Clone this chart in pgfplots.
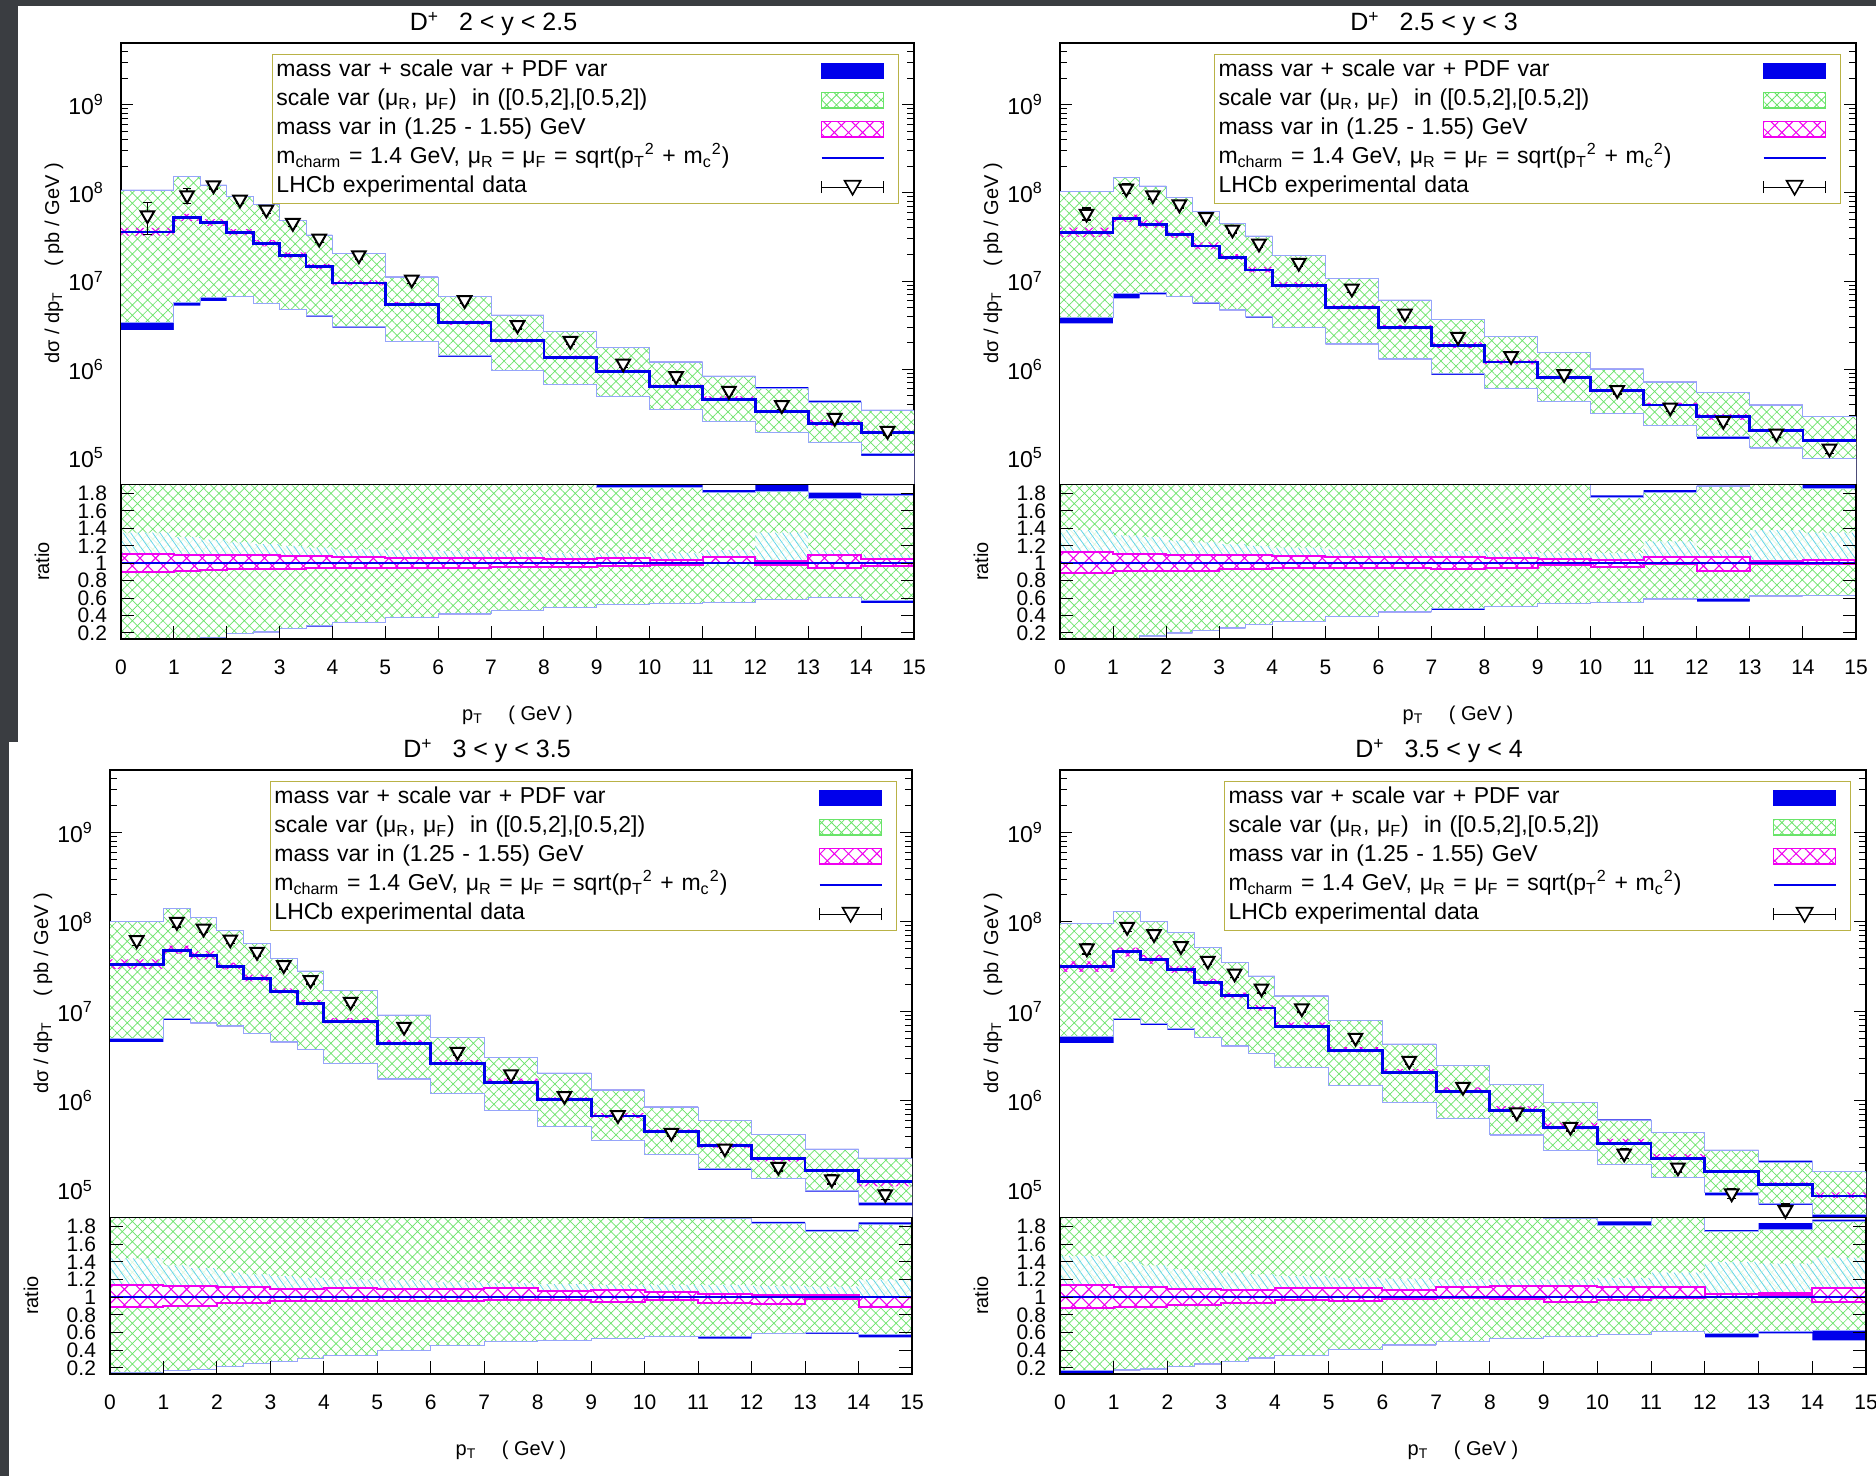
\documentclass[border=0pt]{standalone}
\usepackage{pgfplots}
\pgfplotsset{compat=1.18}
\usepackage{pgfplotstable}
\usetikzlibrary{patterns,patterns.meta}
\usepackage{fontspec}
\setmainfont{Liberation Sans}
\definecolor{bgdark}{RGB}{58,61,65}
\definecolor{hgreen}{RGB}{105,228,105}
\definecolor{edgeblue}{RGB}{150,165,250}
\definecolor{legolive}{RGB}{185,178,70}
\definecolor{pdfcyan}{RGB}{90,210,235}
\definecolor{dblue}{RGB}{0,0,235}
\definecolor{mag}{RGB}{240,0,240}

% ---------- theory tables: x = bin left edge, c = central (pb/GeV), others = ratio to central
\pgfplotstableread{
x    c       su    sl     tu    tl     mu    ml    pu    pl
0    3.6e7   2.97  0.093  2.99  0.077  1.11  0.90  1.35  0.93
1    5.25e7  2.88  0.110  2.90  0.100  1.10  0.91  1.30  0.94
1.5  4.56e7  2.68  0.143  2.70  0.130  1.10  0.92  1.27  0.94
2    3.55e7  2.56  0.189  2.58  0.185  1.09  0.93  1.24  0.95
2.5  2.66e7  2.78  0.211  2.80  0.205  1.09  0.93  1.22  0.95
3    1.95e7  2.46  0.246  2.48  0.242  1.085 0.935 1.20  0.95
3.5  1.45e7  2.28  0.284  2.30  0.272  1.08  0.94  1.18  0.95
4    9.5e6   2.16  0.322  2.18  0.312  1.07  0.94  1.16  0.96
5    5.46e6  2.03  0.379  2.05  0.375  1.06  0.95  1.15  0.96
6    3.36e6  1.99  0.421  2.01  0.412  1.06  0.95  1.14  0.97
7    2.1e6   1.95  0.459  1.97  0.455  1.055 0.955 1.13  0.97
8    1.36e6  1.95  0.497  1.97  0.493  1.05  0.96  1.12  0.97
9    9.35e5  1.875 0.524  1.90  0.520  1.055 0.97  1.12  0.97
10   6.43e5  1.87  0.543  1.90  0.540  1.04  0.98  1.12  0.97
11   4.58e5  1.81  0.554  1.84  0.550  1.076 1.00  1.15  0.97
12   3.29e5  1.82  0.589  1.90  0.585  1.03  0.98  1.35  1.00
13   2.43e5  1.74  0.608  1.81  0.604  1.10  0.94  1.15  0.95
14   1.92e5  1.78  0.570  1.80  0.543  1.05  0.97  1.10  0.85
15   1.92e5  1.78  0.570  1.80  0.543  1.05  0.97  1.10  0.85
}\tabTL
\pgfplotstableread{
x    c       su    sl     tu    tl     mu    ml    pu    pl
0    3.55e7  2.93  0.110  2.95  0.093  1.133 0.886 1.38  0.92
1    5.1e7   2.90  0.140  2.92  0.125  1.11  0.91  1.32  0.93
1.5  4.4e7   2.70  0.170  2.72  0.160  1.11  0.91  1.30  0.93
2    3.37e7  2.60  0.200  2.62  0.195  1.10  0.915 1.26  0.94
2.5  2.5e7   2.43  0.227  2.45  0.222  1.10  0.915 1.24  0.94
3    1.85e7  2.43  0.257  2.45  0.252  1.09  0.935 1.22  0.95
3.5  1.33e7  2.42  0.295  2.44  0.290  1.09  0.935 1.20  0.95
4    8.97e6  2.15  0.333  2.17  0.328  1.08  0.94  1.18  0.96
5    5.0e6   2.14  0.387  2.16  0.383  1.07  0.95  1.16  0.96
6    2.97e6  2.04  0.440  2.06  0.435  1.07  0.95  1.15  0.97
7    1.87e6  1.96  0.475  1.98  0.460  1.076 0.93  1.14  0.97
8    1.21e6  1.93  0.505  1.95  0.500  1.06  0.94  1.13  0.97
9    8.0e5   1.91  0.535  1.93  0.530  1.05  0.98  1.12  0.97
10   5.7e5   1.76  0.550  1.78  0.545  1.04  0.96  1.12  0.97
11   3.92e5  1.81  0.590  1.84  0.585  1.07  0.99  1.25  0.98
12   2.89e5  1.88  0.590  1.89  0.560  1.076 0.916 1.15  0.97
13   2.04e5  1.92  0.627  1.94  0.620  1.03  0.99  1.38  1.00
14   1.55e5  1.86  0.630  1.90  0.625  1.04  0.99  1.35  1.00
15   1.55e5  1.86  0.630  1.90  0.625  1.04  0.99  1.35  1.00
}\tabTR
\pgfplotstableread{
x    c       su    sl     tu    tl     mu    ml    pu    pl
0    3.34e7  3.00  0.150  3.02  0.135  1.14  0.886 1.44  0.90
1    4.83e7  2.92  0.173  2.94  0.165  1.126 0.905 1.36  0.92
1.5  4.18e7  2.66  0.180  2.68  0.175  1.126 0.905 1.33  0.92
2    3.15e7  2.52  0.220  2.54  0.215  1.114 0.935 1.28  0.93
2.5  2.31e7  2.48  0.246  2.50  0.242  1.114 0.935 1.26  0.93
3    1.65e7  2.36  0.276  2.38  0.272  1.095 0.955 1.24  0.94
3.5  1.22e7  2.30  0.307  2.32  0.303  1.095 0.955 1.22  0.94
4    7.64e6  2.21  0.345  2.23  0.342  1.10  0.96  1.20  0.95
5    4.37e6  2.07  0.400  2.09  0.397  1.09  0.96  1.19  0.95
6    2.61e6  1.95  0.455  1.97  0.452  1.09  0.96  1.17  0.96
7    1.59e6  1.91  0.493  1.93  0.490  1.11  0.97  1.16  0.96
8    1.02e6  1.98  0.510  2.00  0.507  1.07  0.97  1.15  0.96
9    6.73e5  1.95  0.535  1.97  0.525  1.08  0.95  1.14  0.96
10   4.49e5  1.89  0.560  1.91  0.555  1.06  0.97  1.14  0.95
11   3.18e5  1.89  0.555  1.91  0.530  1.04  0.93  1.14  0.92
12   2.26e5  1.835 0.590  1.855 0.585  1.03  0.92  1.13  0.90
13   1.64e5  1.745 0.600  1.765 0.585  1.02  0.98  1.12  0.87
14   1.24e5  1.83  0.580  1.85  0.545  1.00  0.886 1.20  0.85
15   1.24e5  1.83  0.580  1.85  0.545  1.00  0.886 1.20  0.85
}\tabBL
\pgfplotstableread{
x    c       su    sl     tu    tl     mu    ml    pu    pl
0    3.15e7  3.05  0.167  3.07  0.140  1.144 0.873 1.47  0.90
1    4.62e7  2.81  0.180  2.83  0.172  1.113 0.885 1.40  0.92
1.5  3.83e7  2.61  0.190  2.63  0.183  1.113 0.885 1.36  0.92
2    2.94e7  2.57  0.217  2.59  0.210  1.094 0.912 1.32  0.93
2.5  2.1e7   2.47  0.244  2.49  0.238  1.094 0.912 1.30  0.93
3    1.5e7   2.35  0.275  2.37  0.270  1.078 0.93  1.28  0.94
3.5  1.09e7  2.27  0.313  2.29  0.307  1.078 0.93  1.26  0.94
4    6.82e6  2.17  0.344  2.19  0.340  1.105 0.97  1.24  0.95
5    3.61e6  2.17  0.410  2.19  0.405  1.10  0.96  1.22  0.95
6    2.07e6  2.06  0.460  2.08  0.455  1.086 0.985 1.21  0.96
7    1.26e6  1.95  0.500  1.97  0.495  1.12  0.99  1.20  0.96
8    7.71e5  1.97  0.537  1.99  0.532  1.13  0.98  1.20  0.96
9    5.02e5  1.89  0.553  1.92  0.548  1.13  0.95  1.20  0.96
10   3.33e5  1.81  0.576  1.86  0.571  1.12  0.97  1.22  0.95
11   2.26e5  1.93  0.615  1.95  0.610  1.12  0.99  1.28  0.92
12   1.6e5   1.75  0.584  1.76  0.545  1.04  1.00  1.40  0.75
13   1.16e5  1.77  0.610  1.84  0.590  1.05  1.02  1.38  0.80
14   8.57e4  1.86  0.620  1.88  0.510  1.10  0.95  1.45  0.80
15   8.57e4  1.86  0.620  1.88  0.510  1.10  0.95  1.45  0.80
}\tabBR

% ---------- LHCb data: x, value, error
\pgfplotstableread{
x     d       e
0.5   5.57e7  2.2e7
1.25  9.4e7   1.8e7
1.75  1.22e8  1.2e7
2.25  8.4e7   8e6
2.75  6.46e7  6e6
3.25  4.56e7  4e6
3.75  3.03e7  3e6
4.5   1.96e7  1.8e6
5.5   1.04e7  1e6
6.5   6.07e6  5e5
7.5   3.16e6  3e5
8.5   2.1e6   2e5
9.5   1.16e6  1.1e5
10.5  8.36e5  8e4
11.5  5.7e5   5e4
12.5  3.92e5  4e4
13.5  2.81e5  3e4
14.5  2.0e5   2e4
}\datTL
\pgfplotstableread{
x     d       e
0.5   5.8e7   9e6
1.25  1.12e8  1.4e7
1.75  9.4e7   9e6
2.25  7.4e7   7e6
2.75  5.3e7   5e6
3.25  3.84e7  3.5e6
3.75  2.66e7  2.5e6
4.5   1.61e7  1.5e6
5.5   8.2e6   8e5
6.5   4.28e6  4e5
7.5   2.33e6  2.2e5
8.5   1.41e6  1.3e5
9.5   8.8e5   8e4
10.5  5.8e5   5.5e4
11.5  3.69e5  3.5e4
12.5  2.6e5   2.5e4
13.5  1.87e5  2e4
14.5  1.26e5  1.5e4
}\datTR
\pgfplotstableread{
x     d       e
0.5   6.25e7  8e6
1.25  1.0e8   1.2e7
1.75  8.4e7   8e6
2.25  6.36e7  6e6
2.75  4.62e7  4.5e6
3.25  3.28e7  3e6
3.75  2.23e7  2.1e6
4.5   1.28e7  1.2e6
5.5   6.71e6  6e5
6.5   3.52e6  3.3e5
7.5   1.97e6  1.8e5
8.5   1.13e6  1e5
9.5   6.9e5   6.5e4
10.5  4.38e5  4e4
11.5  2.92e5  2.8e4
12.5  1.82e5  1.8e4
13.5  1.32e5  1.5e4
14.5  9.0e4   1.2e4
}\datBL
\pgfplotstableread{
x     d       e
0.5   5.05e7  7e6
1.25  8.8e7   1e7
1.75  7.3e7   7e6
2.25  5.36e7  5e6
2.75  3.67e7  3.5e6
3.25  2.65e7  2.5e6
3.75  1.8e7   2e6
4.5   1.08e7  1e6
5.5   5.06e6  5e5
6.5   2.79e6  2.7e5
7.5   1.43e6  1.4e5
8.5   7.4e5   7e4
9.5   5.1e5   5e4
10.5  2.57e5  3e4
11.5  1.79e5  2e4
12.5  9.2e4   1.2e4
13.5  5.97e4  1e4
}\datBR

\pgfplotsset{
  base/.style={scale only axis, anchor=south west, xmin=0, xmax=15,
    axis line style={black, line width=0.8pt},
    every tick/.style={black, line width=0.5pt},
    tick align=inside, major tick length=6pt, minor tick length=3.5pt,
    tick label style={font=\fontsize{10.5}{12}\selectfont},
    label style={font=\fontsize{13}{15}\selectfont}},
  ratioax/.style={base, ymin=0.13, ymax=1.91, axis on top,
    ytick={0.2,0.4,0.6,0.8,1,1.2,1.4,1.6,1.8},
    yticklabels={0.2,0.4,0.6,0.8,1,1.2,1.4,1.6,1.8},
    xtick={0,1,2,3,4,5,6,7,8,9,10,11,12,13,14,15},
    xticklabels={0,1,2,3,4,5,6,7,8,9,10,11,12,13,14,15},
    xtick pos=bottom, ytick pos=both, yticklabel pos=left,
    major tick length=6.5pt,
    xticklabel style={yshift=-7pt},
    yticklabel style={xshift=-3.5pt},
    xlabel={p\textsubscript{T}\quad\ ( GeV )},
    ylabel={ratio},
    every axis x label/.style={at={(axis description cs:0.5,0)}, anchor=center, yshift=-38pt},
    every axis y label/.style={at={(axis description cs:0,0.5)}, xshift=-39.5pt, rotate=90, anchor=center}},
  mainax/.style={base, ymin=5e4, ymax=5e9, xtick=\empty,
    ytick={1e5,1e6,1e7,1e8,1e9},
    yticklabels={10\textsuperscript{5},10\textsuperscript{6},10\textsuperscript{7},10\textsuperscript{8},10\textsuperscript{9}},
    minor ytick={6e4,7e4,8e4,9e4,2e5,3e5,4e5,5e5,6e5,7e5,8e5,9e5,2e6,3e6,4e6,5e6,6e6,7e6,8e6,9e6,2e7,3e7,4e7,5e7,6e7,7e7,8e7,9e7,2e8,3e8,4e8,5e8,6e8,7e8,8e8,9e8,2e9,3e9,4e9},
    ytick pos=both, yticklabel pos=left,
    yticklabel style={xshift=-5pt, font=\fontsize{11.5}{13}\selectfont},
    ylabel={dσ / dp\textsubscript{T}\quad\ ( pb / GeV )},
    every axis y label/.style={at={(axis description cs:0,0.5)}, xshift=-33.5pt, rotate=90, anchor=center},
    every axis title/.style={at={(axis description cs:0.5,1)}, anchor=center, xshift=-12pt, yshift=9.5pt, font=\fontsize{12.5}{14}\selectfont},
    legend plot pos=right, legend cell align=left,
    legend style={at={(axis description cs:1,1)}, anchor=north east, xshift=-7.5pt, yshift=-5.5pt,
      draw=legolive, line width=0.7pt, fill=white, inner sep=1pt, row sep=0pt, column sep=9pt,
      font=\fontsize{11.5}{13}\selectfont,
      nodes={text width=262pt, align=left, text height=8.6pt, text depth=3.3pt, inner ysep=1.3pt, inner xsep=1pt}}},
  band/.style={forget plot, const plot, draw=none},
  greenhatch/.style={band, pattern={Hatch[angle=45,distance=3.6pt,line width=0.35pt]}, pattern color=hgreen},
  cyanhatch/.style={band, pattern={Lines[angle=-55,distance=3pt,line width=0.35pt]}, pattern color=pdfcyan},
  maghatch/.style={band, pattern={Hatch[angle=45,distance=5.5pt,line width=0.55pt]}, pattern color=mag},
  lgA/.style={legend image code/.code={\fill[dblue] (0pt,-3.5pt) rectangle (31pt,3.5pt);\path (37pt,0pt);}},
  lgB/.style={legend image code/.code={\fill[white] (0pt,-3.8pt) rectangle (31pt,3.8pt);\fill[pattern={Hatch[angle=45,distance=3.5pt,line width=0.4pt]},pattern color=hgreen] (0pt,-3.8pt) rectangle (31pt,3.8pt);\draw[hgreen,line width=0.8pt] (0pt,-3.8pt) rectangle (31pt,3.8pt);\path (37pt,0pt);}},
  lgC/.style={legend image code/.code={\fill[white] (0pt,-3.8pt) rectangle (31pt,3.8pt);\fill[pattern={Hatch[angle=45,distance=5pt,line width=0.5pt]},pattern color=mag] (0pt,-3.8pt) rectangle (31pt,3.8pt);\draw[mag,line width=0.8pt] (0pt,-3.8pt) rectangle (31pt,3.8pt);\path (37pt,0pt);}},
  lgD/.style={legend image code/.code={\draw[dblue,line width=1.1pt] (0pt,0pt)--(31pt,0pt);\path (37pt,0pt);}},
  lgE/.style={legend image code/.code={\draw[black,line width=0.6pt] (0pt,0pt)--(31pt,0pt) (0pt,-3pt)--(0pt,3pt) (31pt,-3pt)--(31pt,3pt);\draw[black,fill=white,line width=0.8pt] (11.5pt,3.2pt)--(19.5pt,3.2pt)--(15.5pt,-3.8pt)--cycle;\path (37pt,0pt);}},
}

% bands are painted by successive fills down to the axis bottom (painter's order)
% #1 id, #2 title range, #3 x, #4 y, #5 width, #6 ratio height, #7 main height, #8 theory table, #9 data table
\newcommand\panel[9]{%
\begin{axis}[ratioax, at={(#3,#4)}, width=#5, height=#6]
\addplot[band, fill=dblue] table[x=x,y=tu]{#8} \closedcycle;
\addplot[band, fill=white] table[x=x,y=su]{#8} \closedcycle;
\addplot[greenhatch] table[x=x,y=su]{#8} \closedcycle;
\addplot[band, fill=white, fill opacity=0.8] table[x=x,y=pu]{#8} \closedcycle;
\addplot[cyanhatch] table[x=x,y=pu]{#8} \closedcycle;
\addplot[band, fill=white] table[x=x,y=pl]{#8} \closedcycle;
\addplot[greenhatch] table[x=x,y=pl]{#8} \closedcycle;
\addplot[band, fill=white] table[x=x,y=mu]{#8} \closedcycle;
\addplot[maghatch] table[x=x,y=mu]{#8} \closedcycle;
\addplot[band, fill=white] table[x=x,y=ml]{#8} \closedcycle;
\addplot[greenhatch] table[x=x,y=ml]{#8} \closedcycle;
\addplot[band, fill=dblue] table[x=x,y=sl]{#8} \closedcycle;
\addplot[band, fill=white] table[x=x,y=tl]{#8} \closedcycle;
\addplot[edgeblue,line width=0.5pt,forget plot,const plot] table[x=x,y=su]{#8};
\addplot[edgeblue,line width=0.5pt,forget plot,const plot] table[x=x,y=sl]{#8};
\addplot[mag,line width=1pt,forget plot,const plot] table[x=x,y=mu]{#8};
\addplot[mag,line width=1pt,forget plot,const plot] table[x=x,y=ml]{#8};
\addplot[dblue,line width=1pt,forget plot] coordinates {(0,1) (15,1)};
\end{axis}
\begin{semilogyaxis}[mainax, at={(#3,#4+#6)}, width=#5, height=#7,
  title={D\textsuperscript{+}\hspace{0.8em}#2}]
\addplot[band, fill=dblue] table[x=x,y expr=\thisrow{c}*\thisrow{tu}]{#8} \closedcycle;
\addplot[band, fill=white] table[x=x,y expr=\thisrow{c}*\thisrow{su}]{#8} \closedcycle;
\addplot[greenhatch] table[x=x,y expr=\thisrow{c}*\thisrow{su}]{#8} \closedcycle;
\addplot[maghatch] table[x=x,y expr=\thisrow{c}*\thisrow{mu}]{#8} \closedcycle;
\addplot[band, fill=white] table[x=x,y expr=\thisrow{c}*\thisrow{ml}]{#8} \closedcycle;
\addplot[greenhatch] table[x=x,y expr=\thisrow{c}*\thisrow{ml}]{#8} \closedcycle;
\addplot[band, fill=dblue] table[x=x,y expr=\thisrow{c}*\thisrow{sl}]{#8} \closedcycle;
\addplot[band, fill=white] table[x=x,y expr=\thisrow{c}*\thisrow{tl}]{#8} \closedcycle;
\addplot[edgeblue,line width=0.5pt,forget plot,const plot] table[x=x,y expr=\thisrow{c}*\thisrow{su}]{#8};
\addplot[edgeblue,line width=0.5pt,forget plot,const plot] table[x=x,y expr=\thisrow{c}*\thisrow{sl}]{#8};
\addplot[dblue,line width=1.4pt,forget plot,const plot] table[x=x,y=c]{#8};
\addplot[black,only marks,forget plot,mark=triangle*,mark size=3.9pt,
  mark options={rotate=180,line width=1pt,fill=white,draw=black},
  error bars/.cd, y dir=both, y explicit,
  error bar style={line width=0.7pt,black}, error mark options={black,mark size=2.2pt,line width=0.7pt,rotate=90}]
  table[x=x,y=d,y error=e]{#9};
\addlegendimage{lgA}\addlegendentry{mass var + scale var + PDF var}
\addlegendimage{lgB}\addlegendentry{scale var (μ\textsubscript{R}, μ\textsubscript{F})\ \ in ([0.5,2],[0.5,2])}
\addlegendimage{lgC}\addlegendentry{mass var in (1.25 - 1.55) GeV}
\addlegendimage{lgD}\addlegendentry{m\textsubscript{charm} = 1.4 GeV, μ\textsubscript{R} = μ\textsubscript{F} = sqrt(p\textsubscript{T}\textsuperscript{2} + m\textsubscript{c}\textsuperscript{2})}
\addlegendimage{lgE}\addlegendentry{LHCb experimental data}
\end{semilogyaxis}}

\begin{document}
\begin{tikzpicture}
\path[use as bounding box, fill=bgdark] (0pt,0pt) rectangle (938pt,738pt);
\fill[white] (4.5pt,0pt) rectangle (938pt,367pt);
\fill[white] (9pt,367pt) rectangle (938pt,735pt);
\panel{A}{2 < y < 2.5}{60.5pt}{418.5pt}{396.5pt}{77.5pt}{220.5pt}{\tabTL}{\datTL}
\panel{B}{2.5 < y < 3}{530pt}{418.5pt}{398pt}{77.5pt}{220.5pt}{\tabTR}{\datTR}
\panel{C}{3 < y < 3.5}{55pt}{51pt}{401pt}{78.5pt}{223.5pt}{\tabBL}{\datBL}
\panel{D}{3.5 < y < 4}{530pt}{51pt}{403pt}{78.5pt}{223.5pt}{\tabBR}{\datBR}
\end{tikzpicture}
\end{document}
